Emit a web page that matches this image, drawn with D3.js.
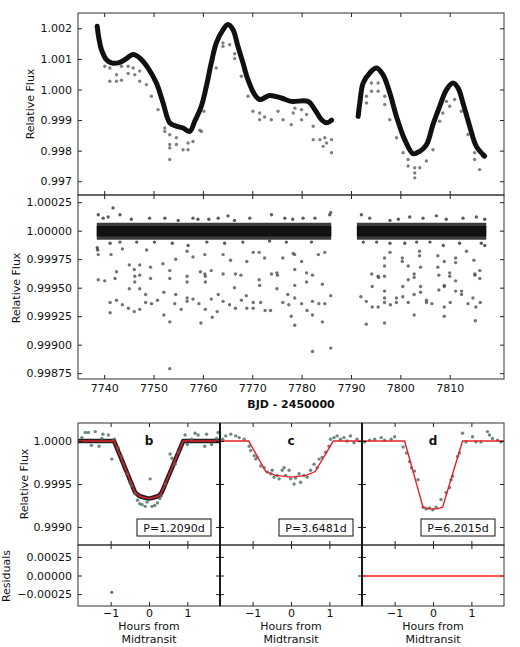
<!DOCTYPE html>
<html>
<head>
<meta charset="utf-8">
<script src="https://cdn.jsdelivr.net/npm/d3@7"></script>
<style>
body { margin: 0; background: #fff; }
text { font-family: "DejaVu Sans", sans-serif; font-size: 11px; fill: #111; }
</style>
</head>
<body>
<svg id="chart" width="520" height="647"></svg>
<script>
// ---- data ----
// top panel: smoothed stellar variability (day, relative flux)
var trendA = [[7738.58,1.00207],[7738.93,1.00168],[7739.45,1.0013],[7740.47,1.00097],[7741.48,1.00087],[7742.83,1.00087],
  [7744.18,1.00097],[7745.87,1.00114],[7747.2,1.00103],[7748.9,1.0007],[7750.58,1.00021],[7751.94,0.99956],[7753.29,0.99891],
  [7754.63,0.9988],[7755.98,0.99874],[7757.33,0.99863],[7758.35,0.99896],[7759.68,0.99945],[7760.7,1.0001],[7761.7,1.00087],
  [7762.72,1.00152],[7764.07,1.00195],[7765.08,1.00212],[7766.1,1.00195],[7767.1,1.00141],[7768.12,1.00087],[7769.13,1.00032],
  [7770.49,0.99983],[7771.5,0.99967],[7773.52,0.9998],[7775.87,0.99972],[7777.9,0.99961],[7781.33,0.99961],[7782.69,0.99934],
  [7784.04,0.99901],[7785.05,0.99891],[7786.06,0.999]];
var trendB = [[7791.45,0.99912],[7791.79,0.99956],[7792.46,1.00021],[7793.81,1.00054],[7795.17,1.0007],[7796.5,1.00048],
  [7797.86,0.99989],[7799.21,0.99912],[7800.89,0.99836],[7802.57,0.9979],[7803.93,0.99798],[7805.28,0.99819],[7806.62,0.99886],
  [7807.97,0.99945],[7809.33,0.99999],[7810.67,1.00021],[7811.68,1.00005],[7812.69,0.99956],[7814.05,0.9988],[7815.4,0.99814],
  [7817.08,0.99782]];
// top panel: in-transit points below the trend
var topPts = [[7739.1,1.00141],[7740.13,1.00076],[7741.15,1.0007],[7741.15,1.00027],[7742.5,1.00048],[7742.5,1.00027],
  [7743.5,1.00076],[7743.5,1.0003],[7744.86,1.00052],[7744.86,1.00076],[7745.87,1.0007],[7746.2,1.00048],[7747.2,1.00027],
  [7747.2,1.0006],[7748.56,1.00016],[7749.57,0.99978],[7750.92,0.99934],[7752.28,0.99874],[7752.28,0.99863],[7753.29,0.99852],
  [7753.29,0.99809],[7753.29,0.99771],[7753.29,0.9982],[7754.63,0.9982],[7754.63,0.99842],[7755.98,0.99803],[7756.99,0.99803],
  [7756.99,0.99825],[7758.0,0.9983],[7759.36,0.99867],[7759.7,0.99863],[7760.2,0.99929],[7762.05,1.00097],[7762.7,1.0007],
  [7764.07,1.00152],[7764.07,1.00141],[7765.43,1.00146],[7766.44,1.00117],[7766.44,1.00101],[7767.8,1.00043],[7768.4,1.0006],
  [7769.13,0.99978],[7770.14,0.99929],[7771.5,0.99923],[7771.5,0.99901],[7772.5,0.9991],[7773.86,0.99901],[7775.22,0.99929],
  [7776.23,0.99901],[7777.9,0.99885],[7778.3,0.99923],[7778.64,0.99939],[7779.99,0.99934],[7779.99,0.99901],[7781.0,0.99918],
  [7782.35,0.9988],[7782.35,0.99836],[7783.7,0.99836],[7784.37,0.99814],[7784.7,0.99842],[7785.04,0.99825],[7786.06,0.99836],
  [7786.06,0.99793],[7793.14,0.99978],[7793.14,0.99956],[7794.15,1.00021],[7794.15,0.99994],[7795.5,1.00021],[7795.5,0.99994],
  [7796.84,0.99978],[7796.84,0.99951],[7797.86,0.99901],[7799.21,0.99842],[7800.56,0.99793],[7801.57,0.99771],[7801.57,0.9975],
  [7802.92,0.99744],[7802.92,0.99727],[7802.92,0.99711],[7803.93,0.99744],[7805.28,0.99766],[7806.62,0.99803],[7807.97,0.99896],
  [7808.6,0.99923],[7809.33,0.99961],[7810.0,0.99945],[7811.0,0.99967],[7812.35,0.99929],[7813.7,0.99853],[7815.05,0.99793],
  [7815.05,0.99771],[7816.06,0.99738],[7816.7,0.99782]];

// middle panel: detrended light curve, dense band plus outliers
var bandSegs = [[7738.5,7786.0],[7791.2,7817.4]];
var bandOuter = [0.99992, 1.00007];
var bandInner = [0.99995, 1.00004];
var midPts = [[7738.8,0.99979],[7738.8,0.99957],[7740.1,0.99956],[7741.2,0.99937],[7741.2,0.99928],[7741.4,0.99979],
  [7742.2,0.99958],[7742.5,0.99964],[7742.5,0.99939],[7743.7,0.99935],[7743.7,0.99984],[7744.9,0.99932],[7745.1,0.9997],
  [7745.1,0.99949],[7746.1,0.99929],[7746.1,0.99966],[7746.2,0.9996],[7746.2,0.99955],[7747.2,0.9997],[7747.2,0.99961],
  [7747.2,0.99949],[7747.2,0.99931],[7748.4,0.99944],[7748.4,0.99937],[7748.6,0.99983],[7749.4,0.99968],[7749.4,0.99958],
  [7749.6,0.99936],[7750.8,0.99939],[7751.9,0.99971],[7752.1,0.99946],[7752.1,0.99926],[7753.3,0.99965],[7753.3,0.99958],
  [7753.3,0.9992],[7753.3,0.99879],[7754.3,0.99936],[7754.5,0.99975],[7754.5,0.99944],[7755.6,0.99931],[7756.8,0.9996],
  [7756.8,0.99955],[7756.8,0.99941],[7756.8,0.99938],[7756.8,0.99982],[7758.0,0.9994],[7758.0,0.99977],[7759.2,0.99936],
  [7759.5,0.99964],[7759.6,0.99919],[7760.4,0.99979],[7760.4,0.99962],[7760.5,0.9996],[7760.5,0.99955],[7760.5,0.99931],
  [7761.7,0.99965],[7761.7,0.9994],[7761.9,0.99924],[7762.9,0.99929],[7763.1,0.99944],[7764.1,0.99962],[7764.1,0.99938],
  [7764.1,0.99979],[7765.4,0.99935],[7765.6,0.99974],[7766.4,0.9995],[7766.6,0.99962],[7766.6,0.99932],[7767.7,0.99961],
  [7767.8,0.99939],[7768.8,0.99943],[7768.9,0.99932],[7768.9,0.99973],[7770.2,0.99981],[7770.2,0.99937],[7770.2,0.99932],
  [7771.4,0.99981],[7771.4,0.99957],[7771.5,0.99952],[7771.7,0.99937],[7772.5,0.99976],[7772.6,0.9993],[7773.7,0.9993],
  [7773.9,0.99962],[7775.0,0.99963],[7775.0,0.99949],[7775.1,0.99961],[7776.2,0.99976],[7776.2,0.99937],[7777.2,0.99944],
  [7777.4,0.99935],[7777.9,0.99925],[7778.3,0.9998],[7778.6,0.99979],[7778.6,0.99966],[7778.6,0.99952],[7778.6,0.99941],
  [7778.6,0.99917],[7780.0,0.99973],[7780.0,0.99936],[7781.0,0.99963],[7781.0,0.99955],[7781.1,0.9993],[7782.2,0.99961],
  [7782.2,0.99938],[7782.2,0.99926],[7782.2,0.99894],[7783.4,0.99979],[7783.5,0.99936],[7784.2,0.99953],[7784.2,0.9992],
  [7784.7,0.99981],[7784.7,0.99936],[7785.9,0.99943],[7785.9,0.99897],[7785.9,1.00016],[7792.0,0.99942],[7793.1,0.99938],
  [7793.1,0.99918],[7794.2,0.99962],[7794.3,0.99951],[7794.3,0.99933],[7795.5,0.9996],[7795.6,0.99959],[7795.5,0.99933],
  [7796.8,0.99976],[7796.8,0.99969],[7796.8,0.9996],[7796.8,0.99947],[7796.8,0.99941],[7796.8,0.99937],[7796.8,0.99919],
  [7797.9,0.99981],[7798.0,0.99935],[7799.2,0.99941],[7799.2,0.99937],[7800.4,0.99976],[7800.4,0.99973],[7800.5,0.99951],
  [7800.5,0.99942],[7801.6,0.99969],[7801.6,0.99957],[7801.6,0.99937],[7802.8,0.99962],[7802.8,0.99959],[7802.8,0.99944],
  [7802.8,0.99926],[7803.9,0.99982],[7803.9,0.99978],[7804.1,0.99968],[7804.1,0.99951],[7804.1,0.99946],[7805.3,0.99939],
  [7805.3,0.99937],[7806.4,0.99936],[7807.6,0.99978],[7807.6,0.99968],[7807.8,0.99961],[7807.8,0.99948],[7808.9,0.99973],
  [7808.9,0.99952],[7808.9,0.99951],[7808.9,0.99933],[7808.9,0.99925],[7810.0,0.99963],[7810.0,0.9996],[7810.1,0.99937],
  [7811.2,0.99976],[7811.2,0.99972],[7811.2,0.99956],[7811.2,0.99947],[7812.4,0.99947],[7812.4,0.99944],[7813.4,0.99982],
  [7813.7,0.99936],[7814.7,0.99941],[7814.9,0.99974],[7815.1,0.99962],[7815.1,0.99961],[7815.2,0.99921],[7815.3,0.99933],
  [7816.1,0.99965],[7816.1,0.99958],[7816.2,0.99937]];
// middle panel: points on the fringe of the band
var fringePts = [[7738.8,1.00014],[7739.8,1.00011],[7740.8,1.00012],[7741.8,1.0002],[7743.2,1.00014],[7749.2,1.00011],
  [7755.0,1.00009],[7758.0,1.00011],[7759.0,1.0001],[7763.1,1.00011],[7765.1,1.00013],[7766.4,1.00009],[7773.9,1.00014],
  [7776.6,1.00011],[7741.2,0.99989],[7743.2,0.9999],[7750.2,0.9999],[7757.0,0.99987],[7764.4,0.99989],[7773.5,0.99991],
  [7776.9,0.9999],[7780.3,1.00011],[7782.7,1.00011],[7785.7,1.00014],[7792.1,1.00014],[7793.8,1.00011],[7797.9,1.00009],
  [7801.9,1.00012],[7804.6,1.00011],[7807.3,1.00013],[7809.3,1.0001],[7812.7,1.00011],[7815.4,1.00012],[7817.1,1.0001],
  [7792.5,0.9999],[7797.9,0.99989],[7803.3,0.9999],[7808.7,0.99987],[7816.4,0.99989],[7817.1,0.99987],[7738.6,0.99985],
  [7738.7,0.99983],[7745.5,1.0001],[7752.3,1.00011],[7761.2,1.0001],[7769.5,1.00011],[7778.2,1.0001],[7799.6,1.0001],
  [7746.6,0.9999],[7753.8,0.99989],[7760.8,0.9999],[7768.1,0.9999],[7782.0,0.9999],[7795.2,0.9999],[7800.9,0.99989],
  [7806.0,0.9999],[7812.0,0.99989]];

// bottom panels: phase-folded transits
var planets = ["b", "c", "d"];
var periods = ["P=1.2090d", "P=3.6481d", "P=6.2015d"];
var modelB = [[-1.85,1],[-0.91,1],[-0.36,0.9994],[-0.25,0.99936],[-0.1,0.99934],[0,0.99933],[0.1,0.99934],[0.25,0.99936],[0.33,0.9994],[0.89,1],[1.85,1]];
var modelC = [[-1.85,1],[-1.1,1],[-0.66,0.999645],[-0.4,0.9996],[0,0.99958],[0.4,0.9996],[0.63,0.999645],[1.1,1],[1.85,1]];
var modelD = [[-1.85,1],[-0.74,1],[-0.26,0.99923],[-0.1,0.99921],[0,0.99921],[0.1,0.99921],[0.25,0.99923],[0.77,1],[1.85,1]];
var ptsB = [[-1.75,1.00004],[-1.66,1.0001],[-1.58,1.0001],[-1.4,1.00011],[-1.23,1.00003],[-1.06,1.00007],[-1.5,0.99995],
  [-1.3,0.99994],[-0.97,0.99979],[-0.8,0.99992],[-0.71,0.99982],[-0.57,0.99962],[-0.45,0.99948],[-0.36,0.99939],[-0.24,0.99927],
  [-0.1,0.99924],[0.03,0.99956],[0.15,0.99925],[0.28,0.99933],[0.42,0.9995],[0.55,0.99985],[0.68,0.99973],[0.76,0.99987],
  [0.94,1.00007],[1.11,1.00002],[1.28,1.00007],[1.45,0.99994],[1.63,0.99996],[1.76,1.00003],[1.8,1.0001],[-0.3,0.99931],
  [-0.18,0.99926],[-0.05,0.99929],[0.08,0.99924],[0.22,0.99928],[0.32,0.99936],[-0.5,0.99952],[0.6,0.9998],[1.0,0.99996],
  [1.2,1.00009],[1.5,1.00008],[-1.2,1.00008],[-0.9,1.00002]];
var ptsC = [[-1.78,1.00002],[-1.7,1.00006],[-1.57,1.00008],[-1.44,1.00006],[-1.35,1.00004],[-1.22,1.00002],[-1.09,0.99994],
  [-1.05,0.99989],[-0.96,0.99983],[-0.92,0.99979],[-0.88,0.99981],[-0.79,0.99971],[-0.7,0.99969],[-0.62,0.99964],[-0.53,0.99962],
  [-0.49,0.99966],[-0.44,0.99958],[-0.36,0.9996],[-0.31,0.99956],[-0.23,0.99966],[-0.18,0.99969],[-0.14,0.9996],[-0.05,0.99966],
  [-0.01,0.99956],[0.08,0.9995],[0.12,0.99957],[0.21,0.99962],[0.25,0.99952],[0.34,0.9996],[0.42,0.99958],[0.51,0.99966],
  [0.6,0.99973],[0.68,0.99969],[0.73,0.99979],[0.81,0.99981],[0.9,0.99987],[0.99,0.99994],[1.03,1.00002],[1.12,1.00004],
  [1.2,1.00006],[1.29,1.00002],[1.38,1.00004],[1.46,1.0],[1.55,1.00006],[1.64,0.99998],[1.72,1.00002]];
var ptsD = [[-1.78,0.99999],[-1.65,1.00001],[-1.52,1.00002],[-1.35,1.00004],[-1.26,1.00001],[-1.09,1.00002],[-1.0,1.00005],
  [-0.78,0.99993],[-0.69,0.99986],[-0.61,0.99976],[-0.56,0.99969],[-0.48,0.99965],[-0.39,0.99955],[-0.26,0.99923],[-0.18,0.99921],
  [-0.09,0.99922],[-0.005,0.9992],[0.08,0.99923],[0.21,0.99932],[0.34,0.9994],[0.43,0.99946],[0.47,0.99955],[0.51,0.99959],
  [0.64,0.99982],[0.69,0.99986],[0.77,1.00009],[0.86,0.99999],[1.03,1.00005],[1.12,0.99999],[1.25,0.99999],[1.42,1.00011],
  [1.47,1.00007],[1.55,1.00003],[1.68,1.00001],[1.77,0.99999]];
var models = [modelB, modelC, modelD];
var points = [ptsB, ptsC, ptsD];
var residPts = [[[-0.97,-0.000224]], [], []];
var residModel = [false, false, true];

// tick values
var dayTicks = [7740,7750,7760,7770,7780,7790,7800,7810];
var topTicks = [0.997,0.998,0.999,1.000,1.001,1.002];
var midTicks = [0.99875,0.999,0.99925,0.9995,0.99975,1.0,1.00025];
var hourTicks = [-1,0,1];
var fluxTicks = [0.999,0.9995,1.0];
var residTicks = [-0.00025,0,0.00025];

// ---- layout ----
var svg = d3.select("#chart");
var L = 78, R = 504;
var x = d3.scaleLinear().domain([7734.7, 7821.0]).range([L, R]);
var yTop = d3.scaleLinear().domain([0.99655, 1.0025]).range([195, 13]);
var yMid = d3.scaleLinear().domain([0.998699, 1.000313]).range([379, 195]);
var yF = d3.scaleLinear().domain([0.99879, 1.00021]).range([545, 423]);
var yR = d3.scaleLinear().domain([-0.00041, 0.00041]).range([606, 545]);
var pw = (R - L) / 3;

var defs = svg.append("defs");
var clipN = 0;
function clipRect(x0, y0, w, h) {
  var id = "clip" + (clipN++);
  defs.append("clipPath").attr("id", id).append("rect").attr("x", x0).attr("y", y0).attr("width", w).attr("height", h);
  return "url(#" + id + ")";
}

function drawAxes(xs, ys, xv, yv, xf, yf, xpad) {
  var x0 = xs.range()[0], x1 = xs.range()[1], yb = ys.range()[0], yt = ys.range()[1];
  var gs = [];
  gs.push(svg.append("g").attr("transform", "translate(0," + yb + ")")
    .call(d3.axisBottom(xs).tickValues(xv).tickSize(-4).tickPadding(xpad || 5).tickFormat(xf || "")));
  gs.push(svg.append("g").attr("transform", "translate(0," + yt + ")")
    .call(d3.axisTop(xs).tickValues(xv).tickSize(-4).tickFormat("")));
  gs.push(svg.append("g").attr("transform", "translate(" + x0 + ",0)")
    .call(d3.axisLeft(ys).tickValues(yv).tickSize(-4).tickPadding(6).tickFormat(yf || "")));
  gs.push(svg.append("g").attr("transform", "translate(" + x1 + ",0)")
    .call(d3.axisRight(ys).tickValues(yv).tickSize(-4).tickFormat("")));
  gs.forEach(function(g) {
    g.select(".domain").remove();
    g.selectAll("line").attr("stroke", "#222");
  });
  svg.append("rect").attr("x", x0).attr("y", yt).attr("width", x1 - x0).attr("height", yb - yt)
    .attr("fill", "none").attr("stroke", "#333").attr("stroke-width", 1);
}

// ---- top panel ----
var topClip = clipRect(L, 13, R - L, 182);
var gTop = svg.append("g").attr("clip-path", topClip);
gTop.selectAll("circle").data(topPts).enter().append("circle")
  .attr("cx", function(d) { return x(d[0]); })
  .attr("cy", function(d) { return yTop(d[1]); })
  .attr("r", 1.7).attr("fill", "#555").attr("fill-opacity", 0.75);
var trendLine = d3.line()
  .x(function(d) { return x(d[0]); })
  .y(function(d) { return yTop(d[1]); })
  .curve(d3.curveCatmullRom);
[trendA, trendB].forEach(function(seg) {
  gTop.append("path").attr("d", trendLine(seg)).attr("fill", "none")
    .attr("stroke", "#111").attr("stroke-width", 5).attr("stroke-linecap", "round");
});
drawAxes(x, yTop, dayTicks, topTicks, null, d3.format(".3f"));

// ---- middle panel ----
var midClip = clipRect(L, 195, R - L, 184);
var gMid = svg.append("g").attr("clip-path", midClip);
var band = function(lo, hi) {
  return d3.area().x(function(d) { return x(d); }).y0(yMid(lo)).y1(yMid(hi));
};
bandSegs.forEach(function(seg) {
  gMid.append("path").attr("d", band(bandOuter[0], bandOuter[1])(seg)).attr("fill", "#3c3c3c");
  gMid.append("path").attr("d", band(bandInner[0], bandInner[1])(seg)).attr("fill", "#111");
});
gMid.selectAll("circle.f").data(fringePts).enter().append("circle")
  .attr("cx", function(d) { return x(d[0]); })
  .attr("cy", function(d) { return yMid(d[1]); })
  .attr("r", 1.7).attr("fill", "#333").attr("fill-opacity", 0.8);
gMid.selectAll("circle.o").data(midPts).enter().append("circle")
  .attr("cx", function(d) { return x(d[0]); })
  .attr("cy", function(d) { return yMid(d[1]); })
  .attr("r", 1.7).attr("fill", "#444").attr("fill-opacity", 0.75);
drawAxes(x, yMid, dayTicks, midTicks, d3.format("d"), d3.format(".5f"), 5);

// ---- bottom panels ----
planets.forEach(function(p, i) {
  var x0 = L + pw * i;
  var xh = d3.scaleLinear().domain([-1.85, 1.85]).range([x0, x0 + pw]);
  var yFi = yF.copy(), yRi = yR.copy();
  var g = svg.append("g").attr("clip-path", clipRect(x0, 423, pw, 122));
  var ml = d3.line().x(function(d) { return xh(d[0]); }).y(function(d) { return yFi(d[1]); });
  if (i === 0) {
    g.append("path").attr("d", ml(models[i])).attr("fill", "none")
      .attr("stroke", "#222").attr("stroke-width", 4.5).attr("stroke-linejoin", "round");
  }
  g.selectAll("circle").data(points[i]).enter().append("circle")
    .attr("cx", function(d) { return xh(d[0]); })
    .attr("cy", function(d) { return yFi(d[1]); })
    .attr("r", 1.7).attr("fill", "#4a6a64").attr("fill-opacity", 0.8);
  g.append("path").attr("d", ml(models[i])).attr("fill", "none")
    .attr("stroke", "#e8202a").attr("stroke-width", 1.4);

  var gr = svg.append("g").attr("clip-path", clipRect(x0, 545, pw, 61));
  gr.selectAll("circle").data(residPts[i]).enter().append("circle")
    .attr("cx", function(d) { return xh(d[0]); })
    .attr("cy", function(d) { return yRi(d[1]); })
    .attr("r", 1.5).attr("fill", "#4a6a64");

  drawAxes(xh, yFi, hourTicks, fluxTicks, null, i === 0 ? d3.format(".4f") : null);
  drawAxes(xh, yRi, hourTicks, residTicks, d3.format("d"), i === 0 ? d3.format(".5f") : null, 3);

  if (residModel[i]) {
    svg.append("line").attr("x1", xh(-1.85) + 1).attr("x2", xh(1.85) - 1)
      .attr("y1", Math.round(yRi(0))).attr("y2", Math.round(yRi(0)))
      .attr("stroke", "#ff2020").attr("stroke-width", 1.4);
  }

  svg.append("text").attr("x", xh(0)).attr("y", 445).attr("text-anchor", "middle")
    .attr("font-weight", "bold").style("font-size", "12px").text(p);
  var bx = x0 + pw - 9, tw = 74;
  svg.append("rect").attr("x", bx - tw).attr("y", 519).attr("width", tw).attr("height", 17)
    .attr("fill", "#fff").attr("stroke", "#111").attr("stroke-width", 1);
  svg.append("text").attr("x", bx - tw / 2).attr("y", 532).attr("text-anchor", "middle").text(periods[i]);
  svg.append("text").attr("x", xh(0)).attr("y", 630).attr("text-anchor", "middle").text("Hours from");
  svg.append("text").attr("x", xh(0)).attr("y", 643).attr("text-anchor", "middle").text("Midtransit");
});
// panel separators
[1, 2].forEach(function(k) {
  svg.append("line").attr("x1", L + pw * k).attr("x2", L + pw * k).attr("y1", 423).attr("y2", 606)
    .attr("stroke", "#000").attr("stroke-width", 1.5);
});

// ---- axis titles ----
svg.append("text").attr("x", (L + R) / 2).attr("y", 408).attr("text-anchor", "middle")
  .attr("font-weight", "bold").text("BJD - 2450000");
function yTitle(tx, ty, s) {
  svg.append("text").attr("transform", "translate(" + tx + "," + ty + ") rotate(-90)")
    .attr("text-anchor", "middle").text(s);
}
yTitle(34, 104, "Relative Flux");
yTitle(20, 288, "Relative Flux");
yTitle(28, 484, "Relative Flux");
yTitle(10, 576, "Residuals");
</script>
</body>
</html>
